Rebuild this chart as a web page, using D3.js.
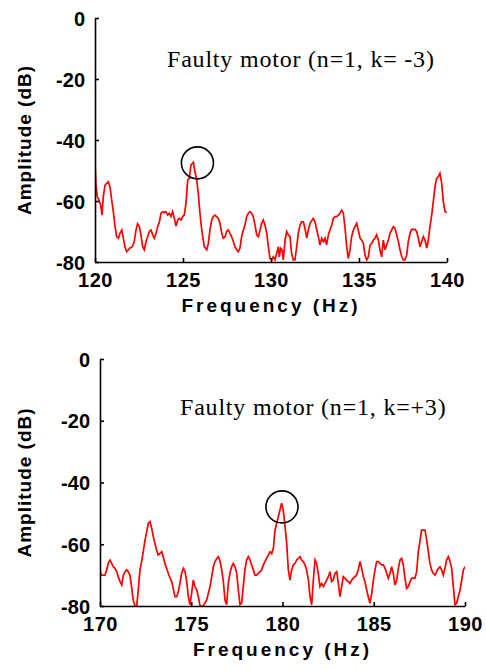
<!DOCTYPE html>
<html>
<head>
<meta charset="utf-8">
<script src="https://cdn.jsdelivr.net/npm/d3@7"></script>
<style>
	body { margin: 0; background: #fff; }
	.tick text { font-family: "Liberation Sans", Arial, sans-serif; font-weight: bold; font-size: 20px; fill: #000; }
	.axlabel { font-family: "Liberation Sans", Arial, sans-serif; font-weight: bold; font-size: 19px; fill: #000; }
	.note { font-family: "Liberation Serif", "Times New Roman", serif; font-size: 24px; fill: #000; }
</style>
</head>
<body>
<svg id="chart" width="486" height="670"></svg>
<script>
// top panel: k = -3
const freqTop = [120.00,120.06,120.13,120.23,120.32,120.40,120.47,120.57,120.66,120.76,120.85,120.95,121.04,121.14,121.23,121.33,121.42,121.52,121.61,121.70,121.80,121.90,121.99,122.12,122.23,122.33,122.42,122.52,122.61,122.71,122.80,122.90,122.99,123.09,123.18,123.28,123.37,123.47,123.56,123.66,123.75,123.85,123.94,124.03,124.13,124.22,124.32,124.41,124.51,124.60,124.70,124.79,124.89,124.98,125.07,125.17,125.27,125.36,125.45,125.59,125.68,125.78,125.87,125.93,126.02,126.12,126.21,126.35,126.44,126.53,126.63,126.72,126.82,126.91,127.01,127.10,127.20,127.29,127.39,127.48,127.57,127.67,127.76,127.86,127.95,128.05,128.14,128.24,128.33,128.43,128.52,128.62,128.71,128.81,128.90,128.99,129.09,129.19,129.28,129.38,129.47,129.56,129.66,129.76,129.85,129.94,130.04,130.13,130.23,130.32,130.42,130.47,130.55,130.63,130.70,130.80,130.89,130.99,131.08,131.17,131.27,131.36,131.46,131.55,131.65,131.74,131.84,131.93,132.03,132.12,132.22,132.40,132.50,132.60,132.69,132.78,132.88,132.97,133.07,133.16,133.26,133.35,133.45,133.54,133.64,133.73,133.83,133.92,134.02,134.11,134.20,134.30,134.39,134.49,134.58,134.68,134.77,134.87,134.96,135.06,135.15,135.25,135.34,135.44,135.53,135.63,135.72,135.82,135.91,136.00,136.10,136.19,136.29,136.38,136.48,136.57,136.67,136.76,136.86,136.95,137.05,137.14,137.24,137.33,137.43,137.52,137.61,137.71,137.80,137.90,137.99,138.18,138.28,138.37,138.47,138.56,138.66,138.75,138.85,138.94,139.03,139.13,139.22,139.32,139.41,139.51,139.60,139.70,139.79,139.89,140.00];
const ampTop = [-47.1,-55.3,-58.6,-59.7,-61.3,-64.6,-58.6,-54.8,-54.2,-53.7,-55.3,-59.7,-63.5,-68.4,-71.7,-72.2,-70.6,-69.5,-72.2,-75.0,-76.6,-76.0,-75.4,-75.0,-73.3,-69.5,-67.5,-68.4,-71.1,-75.0,-76.0,-73.3,-71.7,-70.0,-69.5,-71.1,-72.2,-70.6,-68.4,-66.8,-64.0,-63.5,-63.8,-63.5,-64.6,-64.0,-65.1,-63.5,-65.7,-68.2,-66.2,-65.7,-66.2,-65.1,-64.6,-60.8,-53.1,-52.6,-48.2,-47.3,-50.4,-53.1,-57.5,-61.9,-67.3,-71.7,-75.0,-76.0,-73.9,-69.5,-66.2,-65.1,-64.6,-65.1,-65.7,-67.3,-70.6,-72.2,-71.7,-70.0,-69.5,-70.6,-71.7,-73.3,-75.0,-76.0,-76.6,-75.4,-71.7,-69.5,-67.9,-65.1,-64.0,-63.5,-64.0,-65.1,-67.9,-71.1,-71.7,-69.5,-67.3,-66.2,-67.9,-70.6,-75.0,-78.8,-79.3,-78.3,-79.3,-77.2,-75.0,-78.3,-75.5,-76.0,-79.3,-72.8,-70.0,-71.1,-71.7,-77.2,-79.3,-79.3,-75.0,-70.6,-67.9,-66.8,-66.8,-69.0,-72.2,-69.5,-67.3,-65.7,-66.8,-69.5,-71.7,-74.4,-72.2,-73.3,-72.2,-74.4,-71.1,-69.5,-67.9,-65.7,-65.1,-65.1,-64.6,-64.0,-63.0,-64.0,-68.4,-75.0,-78.8,-76.0,-71.7,-69.5,-68.4,-67.3,-69.5,-72.2,-72.8,-73.9,-77.7,-79.3,-78.3,-74.4,-73.9,-72.8,-72.2,-71.1,-72.8,-76.0,-78.3,-72.8,-76.0,-74.4,-72.8,-70.6,-69.5,-68.4,-69.0,-71.1,-73.3,-76.0,-78.3,-79.3,-79.3,-77.7,-73.3,-70.6,-69.3,-69.3,-70.0,-72.2,-75.0,-73.3,-71.7,-72.8,-75.4,-72.8,-68.4,-64.6,-60.2,-55.3,-52.6,-52.0,-50.9,-54.2,-60.2,-63.5,-63.8];

// bottom panel: k = +3
const freqBottom = [170.00,170.09,170.27,170.37,170.45,170.55,170.64,170.73,170.82,170.92,171.00,171.10,171.19,171.28,171.37,171.46,171.55,171.64,171.73,171.82,171.92,172.01,172.10,172.19,172.28,172.37,172.47,172.56,172.65,172.74,172.83,172.92,173.01,173.10,173.19,173.29,173.38,173.46,173.56,173.65,173.74,173.84,173.93,174.01,174.11,174.20,174.29,174.38,174.47,174.57,174.66,174.75,174.84,174.93,175.02,175.11,175.20,175.30,175.39,175.48,175.66,175.84,175.94,176.03,176.12,176.21,176.30,176.40,176.49,176.58,176.67,176.76,176.85,176.94,177.03,177.12,177.21,177.30,177.40,177.49,177.58,177.67,177.76,177.85,177.94,178.03,178.13,178.22,178.31,178.40,178.49,178.58,178.67,178.77,178.86,178.95,179.04,179.13,179.22,179.32,179.41,179.50,179.59,179.68,179.77,179.86,179.95,180.04,180.14,180.23,180.32,180.41,180.50,180.59,180.68,180.78,180.87,180.96,181.05,181.14,181.23,181.32,181.42,181.51,181.60,181.69,181.78,181.87,181.96,182.05,182.14,182.24,182.33,182.42,182.51,182.60,182.69,182.78,182.88,182.97,183.06,183.15,183.24,183.33,183.42,183.51,183.61,183.70,183.79,183.88,183.97,184.06,184.15,184.25,184.34,184.43,184.52,184.61,184.70,184.79,184.89,184.98,185.07,185.16,185.25,185.34,185.43,185.53,185.62,185.71,185.80,185.89,185.98,186.07,186.16,186.26,186.35,186.44,186.53,186.62,186.71,186.80,186.89,186.99,187.08,187.17,187.26,187.35,187.44,187.53,187.62,187.71,187.81,187.90,187.99,188.08,188.17,188.26,188.36,188.45,188.54,188.63,188.72,188.81,188.90,188.99,189.09,189.18,189.27,189.36,189.45,189.54,189.63,189.73,189.82,189.91,190.00];
const ampBottom = [-68.9,-70.0,-70.0,-68.3,-66.2,-65.1,-66.2,-67.3,-67.8,-68.9,-70.5,-72.1,-73.2,-70.0,-68.9,-68.3,-68.9,-70.0,-73.7,-78.1,-80,-80,-74.8,-68.3,-65.6,-62.4,-58.6,-55.9,-53.2,-52.7,-54.8,-57.5,-59.7,-61.9,-63.5,-63.0,-62.4,-64.0,-66.2,-67.8,-69.4,-71.0,-72.1,-74.3,-77.0,-77.0,-75.4,-72.7,-69.4,-67.8,-68.9,-72.1,-77.0,-79.6,-75.9,-71.6,-73.7,-74.8,-77.0,-80,-80,-78.1,-75.9,-73.7,-70.5,-67.3,-65.6,-64.6,-64.0,-65.6,-68.3,-72.1,-78.1,-79.6,-72.7,-69.4,-67.3,-66.2,-67.3,-69.4,-74.8,-79.6,-79.1,-73.7,-68.3,-65.1,-64.0,-65.1,-66.7,-68.3,-70.0,-70.0,-69.4,-68.9,-68.3,-66.7,-65.6,-64.6,-63.5,-62.4,-63.0,-61.3,-55.4,-53.2,-51.1,-48.9,-46.7,-48.9,-54.3,-59.7,-68.3,-71.6,-68.3,-66.7,-66.2,-65.1,-64.6,-64.0,-65.1,-65.6,-66.7,-68.3,-71.6,-77.0,-79.6,-71.6,-65.1,-66.2,-69.4,-73.7,-72.7,-73.7,-72.7,-71.6,-70.5,-68.9,-72.1,-71.6,-69.4,-68.9,-72.7,-77.0,-73.7,-70.5,-71.0,-71.6,-72.1,-72.7,-71.6,-71.0,-70.5,-70.0,-68.3,-65.6,-67.8,-70.5,-72.1,-74.8,-77.0,-79.1,-75.9,-71.6,-68.3,-65.6,-65.6,-66.2,-66.7,-66.7,-67.8,-69.4,-71.0,-69.4,-67.3,-69.4,-73.2,-71.6,-67.8,-65.1,-64.6,-66.7,-71.0,-74.3,-73.7,-72.1,-71.0,-71.0,-71.0,-68.9,-62.4,-59.2,-55.4,-55.4,-55.4,-58.6,-62.4,-66.2,-68.3,-69.4,-70.0,-68.9,-67.8,-67.3,-68.3,-70.0,-67.8,-65.1,-64.0,-65.6,-67.8,-73.7,-79.6,-79.1,-77.0,-74.8,-71.6,-68.3,-67.3];

const yTicks = [0, -20, -40, -60, -80];
const xTicksTop = [120, 125, 130, 135, 140];
const xTicksBottom = [170, 175, 180, 185, 190];
const notes = ["Faulty motor (n=1, k= -3)", "Faulty motor (n=1, k=+3)"];
const peaks = [[125.82, -47.5], [179.97, -47.9]];

const svg = d3.select("#chart");

function panel(idx, freq, amp, xTicks, box) {
	const g = svg.append("g").attr("transform", `translate(${box.left},${box.top})`);
	const w = box.right - box.left, h = box.bottom - box.top;

	const x = d3.scaleLinear().domain(d3.extent(xTicks)).range([0, w]);
	const y = d3.scaleLinear().domain([-80, 0]).range([h, 0]);

	g.append("clipPath").attr("id", "clip" + idx)
		.append("rect").attr("width", w).attr("height", h + 1);

	const line = d3.line().x(d => x(d[0])).y(d => y(d[1]));
	g.append("path")
		.datum(freq.map((f, i) => [f, amp[i]]))
		.attr("clip-path", `url(#clip${idx})`)
		.attr("fill", "none")
		.attr("stroke", "#ff0000")
		.attr("stroke-width", 1.7)
		.attr("d", line);

	// plain hyphen for negatives, like the original
	const fmt = d => String(d);
	const ya = g.append("g")
		.call(d3.axisLeft(y).tickValues(yTicks).tickFormat(fmt).tickSizeInner(-4).tickSizeOuter(0).tickPadding(10));
	const xa = g.append("g").attr("transform", `translate(0,${h})`)
		.call(d3.axisBottom(x).tickValues(xTicks).tickFormat(fmt).tickSizeInner(-4).tickSizeOuter(0).tickPadding(11));
	[ya, xa].forEach(a => {
		a.select(".domain").attr("stroke", "#000").attr("stroke-width", 1.6);
		a.selectAll(".tick line").attr("stroke", "#000").attr("stroke-width", 1.6);
		a.selectAll(".tick text").attr("font-family", null).attr("font-size", null);
	});
	ya.selectAll(".tick text").attr("dy", "0.36em");
	xa.selectAll(".tick text").attr("letter-spacing", "0.5px");

	// circle around the fault peak
	const p = peaks[idx];
	g.append("circle")
		.attr("cx", x(p[0])).attr("cy", y(p[1])).attr("r", 16)
		.attr("fill", "none").attr("stroke", "#000").attr("stroke-width", 1.6);

	g.append("text").attr("class", "note")
		.attr("x", box.noteX - box.left).attr("y", box.noteY - box.top)
		.attr("letter-spacing", "0.8px")
		.text(notes[idx]);

	g.append("text").attr("class", "axlabel")
		.attr("x", w / 2).attr("y", h + 50)
		.attr("text-anchor", "middle")
		.attr("letter-spacing", "3px")
		.text("Frequency (Hz)");

	g.append("text").attr("class", "axlabel")
		.attr("transform", `translate(${31 - box.left},${h / 2}) rotate(-90)`)
		.attr("text-anchor", "middle")
		.attr("letter-spacing", "1px")
		.text("Amplitude (dB)");
}

panel(0, freqTop, ampTop, xTicksTop, {left: 95, right: 447, top: 18, bottom: 262, noteX: 167, noteY: 67});
panel(1, freqBottom, ampBottom, xTicksBottom, {left: 100, right: 465, top: 359, bottom: 606, noteX: 180, noteY: 415});
</script>
</body>
</html>
